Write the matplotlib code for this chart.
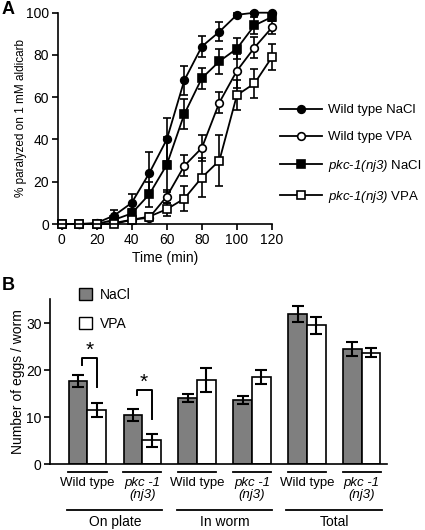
import matplotlib
matplotlib.use('Agg')
import matplotlib.pyplot as plt
from matplotlib.patches import Patch

plt.rcParams['font.family'] = ['Liberation Sans', 'DejaVu Sans']
plt.rcParams['mathtext.fontset'] = 'custom'
plt.rcParams['mathtext.rm'] = 'Liberation Sans'
plt.rcParams['mathtext.sf'] = 'Liberation Sans:italic'
plt.rcParams['axes.linewidth'] = 1.2
plt.rcParams['xtick.major.width'] = 1.2
plt.rcParams['ytick.major.width'] = 1.2

# ---- panel A: aldicarb time course ----
time_min = [0, 10, 20, 30, 40, 50, 60, 70, 80, 90, 100, 110, 120]

wt_nacl = [0, 0, 0.5, 4, 10, 24, 40, 68, 84, 91, 99, 100, 100]
wt_nacl_err = [0, 0, 0.5, 2.5, 4, 10, 10, 7, 5, 4.5, 1, 0.5, 0]

wt_vpa = [0, 0, 0, 0.5, 2, 3, 13, 27.5, 36, 57.5, 72.5, 83.5, 93]
wt_vpa_err = [0, 0, 0, 0.5, 1, 1.5, 3, 5, 6, 5, 8, 5, 3]

pkc_nacl = [0, 0, 0, 2, 5, 14, 28, 52, 69, 77, 83, 94, 98]
pkc_nacl_err = [0, 0, 0, 1, 2, 6, 13, 7, 5, 6, 5, 4, 2]

pkc_vpa = [0, 0, 0, 0, 2, 3.5, 7, 12, 22, 30, 61, 66.5, 79]
pkc_vpa_err = [0, 0, 0, 0, 1, 1.5, 3, 6, 9, 12, 7, 7, 6]

pkc = r'$\mathsf{pkc}$-$\mathsf{1(nj3)}$'
series_a = [
    ('Wild type NaCl', wt_nacl, wt_nacl_err, 'o', 'black', 5.5),
    ('Wild type VPA', wt_vpa, wt_vpa_err, 'o', 'white', 5.5),
    (pkc + ' NaCl', pkc_nacl, pkc_nacl_err, 's', 'black', 6),
    (pkc + ' VPA', pkc_vpa, pkc_vpa_err, 's', 'white', 6),
]

# ---- panel B: egg counts ----
strains = ['Wild type', 'pkc -1\n(nj3)'] * 3
groups = ['On plate', 'In worm', 'Total']
eggs_nacl = [17.7, 10.5, 14.1, 13.7, 32.0, 24.5]
eggs_nacl_err = [1.3, 1.2, 0.9, 0.9, 1.7, 1.5]
eggs_vpa = [11.6, 5.1, 18.0, 18.6, 29.6, 23.8]
eggs_vpa_err = [1.5, 1.4, 2.5, 1.4, 1.8, 1.0]

W, H = 425, 530
fig = plt.figure(figsize=(W / 100, H / 100), dpi=100)

# panel A
axA = fig.add_axes([58 / W, 1 - 224 / H, (272 - 58) / W, (224 - 12.7) / H])
for label, y, err, mk, fc, ms in series_a:
    axA.errorbar(time_min, y, yerr=err, fmt='none', ecolor='black',
                 elinewidth=1.2, capsize=3.2, capthick=1.2, clip_on=False)
    axA.plot(time_min, y, color='black', lw=1.3, marker=mk, ms=ms,
             mfc=fc, mec='black', mew=1.2, label=label, clip_on=False)

axA.set_xlim(-2, 120)
axA.set_ylim(0, 100)
axA.set_xticks(range(0, 121, 20))
axA.set_yticks(range(0, 101, 20))
axA.spines[['top', 'right']].set_visible(False)
axA.tick_params(labelsize=10, length=4.5, pad=2)
axA.set_xlabel('Time (min)', fontsize=10, labelpad=3)
axA.set_ylabel('% paralyzed on 1 mM aldicarb', fontsize=8.5)
axA.yaxis.set_label_coords(-0.145, 0.5)
axA.legend(loc='upper left', bbox_to_anchor=(280 / W, 1 - 104 / H),
           bbox_transform=fig.transFigure, frameon=False, fontsize=9.5,
           handlelength=3.2, handletextpad=0.45, labelspacing=1.12,
           borderpad=0, borderaxespad=0)

# panel B
axB = fig.add_axes([50 / W, 1 - 464.3 / H, (387 - 50) / W, (464.3 - 299) / H])
pos = list(range(len(eggs_nacl)))
bw = 0.34
axB.bar([p - bw / 2 for p in pos], eggs_nacl, width=bw, color='#7f7f7f',
        edgecolor='black', lw=1.2, label='NaCl')
axB.bar([p + bw / 2 for p in pos], eggs_vpa, width=bw, color='white',
        edgecolor='black', lw=1.2, label='VPA')
axB.errorbar([p - bw / 2 for p in pos], eggs_nacl, yerr=eggs_nacl_err,
             fmt='none', ecolor='black', elinewidth=1.5, capsize=4.5, capthick=1.5)
axB.errorbar([p + bw / 2 for p in pos], eggs_vpa, yerr=eggs_vpa_err,
             fmt='none', ecolor='black', elinewidth=1.5, capsize=4.5, capthick=1.5)

axB.set_xlim(-0.68, 5.46)
axB.set_ylim(0, 35.2)
axB.set_yticks([0, 10, 20, 30])
axB.set_xticks([])
axB.spines[['top', 'right']].set_visible(False)
axB.tick_params(labelsize=10, length=4, pad=2)
axB.set_ylabel('Number of eggs / worm', fontsize=10)
axB.yaxis.set_label_coords(-0.075, 0.5)

# significance brackets
for p, top, left_end, right_end, star_y in [(0, 22.7, 21.1, 16.4, 24.2),
                                            (1, 15.8, 14.7, 9.6, 17.4)]:
    axB.plot([p - 0.1, p - 0.1, p + 0.17, p + 0.17],
             [left_end, top, top, right_end], color='black', lw=1.4)
    axB.text(p + 0.035, star_y, '*', ha='center', va='center', fontsize=15)

# category labels under the axis
tr = axB.get_xaxis_transform()
for p, name in zip(pos, strains):
    axB.plot([p - 0.35, p + 0.35], [-0.045, -0.045], transform=tr,
             color='black', lw=1.3, clip_on=False)
    if name.startswith('pkc'):
        axB.text(p, -0.075, name, transform=tr, ha='center', va='top',
                 fontsize=9.5, style='italic', linespacing=1.05)
    else:
        axB.text(p, -0.075, name, transform=tr, ha='center', va='top',
                 fontsize=9.5)
for i, g in enumerate(groups):
    a, b = 2 * i, 2 * i + 1
    axB.plot([a - 0.375, b + 0.36], [-0.276, -0.276], transform=tr,
             color='black', lw=1.3, clip_on=False)
    axB.text((a + b) / 2, -0.305, g, transform=tr, ha='center', va='top',
             fontsize=10)

axB.legend(handles=[Patch(fc='#7f7f7f', ec='black', lw=1.0, label='NaCl'),
                    Patch(fc='white', ec='black', lw=1.0, label='VPA')],
           loc='upper left', bbox_to_anchor=(79 / W, 1 - 288 / H),
           bbox_transform=fig.transFigure, frameon=False, fontsize=10,
           handlelength=0.95, handleheight=0.95, handletextpad=0.55,
           labelspacing=1.05, borderpad=0, borderaxespad=0)

fig.text(2 / W, 1 - 10 / H, 'A', fontsize=13, weight='bold', va='center')
fig.text(2 / W, 1 - 286 / H, 'B', fontsize=13, weight='bold', va='center')

fig.savefig('out.png', dpi=100)
plt.close()
